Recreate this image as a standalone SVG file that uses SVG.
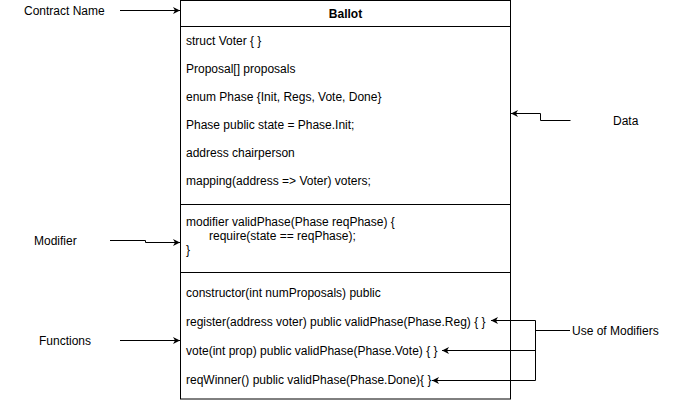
<svg xmlns="http://www.w3.org/2000/svg" width="681" height="404" viewBox="0 0 681 404">
<style>
text{font-family:"Liberation Sans",Arial,sans-serif;font-size:12px;fill:#000}
.b{font-weight:bold}
.box{fill:#fff;stroke:#000;stroke-width:1}
.ln{fill:none;stroke:#000;stroke-width:1}
</style>
<defs>
<marker id="ah" markerWidth="8" markerHeight="8" refX="7" refY="4" orient="auto" markerUnits="userSpaceOnUse">
<path d="M0,0.5 L7,4 L0,7.5 L2,4 Z" fill="#000"/>
</marker>
</defs>
<rect width="681" height="404" fill="#fff"/>
<g id="ballot">
<rect class="box" x="180.5" y="0.5" width="330" height="398.5"/>
<line class="ln" x1="180.5" y1="26.5" x2="510.5" y2="26.5"/>
<line class="ln" x1="180.5" y1="204.5" x2="510.5" y2="204.5"/>
<line class="ln" x1="180.5" y1="272.5" x2="510.5" y2="272.5"/>
<text class="b" x="345.5" y="18" text-anchor="middle">Ballot</text>
<text x="186" y="45">struct Voter { }</text>
<text x="186" y="73">Proposal[] proposals</text>
<text x="186" y="101">enum Phase {Init, Regs, Vote, Done}</text>
<text x="186" y="129">Phase public state = Phase.Init;</text>
<text x="186" y="157">address chairperson</text>
<text x="186" y="185">mapping(address =&gt; Voter) voters;</text>
<text x="186" y="226">modifier validPhase(Phase reqPhase) {</text>
<text x="209" y="240">require(state == reqPhase);</text>
<text x="186" y="254">}</text>
<text x="186" y="297">constructor(int numProposals) public</text>
<text x="186" y="326">register(address voter) public validPhase(Phase.Reg) { }</text>
<text x="186" y="355">vote(int prop) public validPhase(Phase.Vote) { }</text>
<text x="186" y="384">reqWinner() public validPhase(Phase.Done){ }</text>
</g>
<g id="label-contract-name"><text x="24" y="15">Contract Name</text></g>
<g id="label-data"><text x="613" y="125">Data</text></g>
<g id="label-modifier"><text x="34" y="245">Modifier</text></g>
<g id="label-functions"><text x="39" y="345">Functions</text></g>
<g id="label-use-of-modifiers"><text x="572" y="335">Use of Modifiers</text></g>
<g id="connectors">
<path class="ln" d="M120,10.5 H180" marker-end="url(#ah)"/>
<path class="ln" d="M570.5,120.5 H540.5 V113.5 H511" marker-end="url(#ah)"/>
<path class="ln" d="M110,240.5 H145.5 V242.5 H180" marker-end="url(#ah)"/>
<path class="ln" d="M120,340.5 H180" marker-end="url(#ah)"/>
<path class="ln" d="M570,330.5 H535.5"/>
<path class="ln" d="M535.5,320.5 H491" marker-end="url(#ah)"/>
<path class="ln" d="M535.5,350.5 H442" marker-end="url(#ah)"/>
<path class="ln" d="M535.5,380.5 H432" marker-end="url(#ah)"/>
<path class="ln" d="M535.5,320.5 V380.5"/>
</g>
</svg>
